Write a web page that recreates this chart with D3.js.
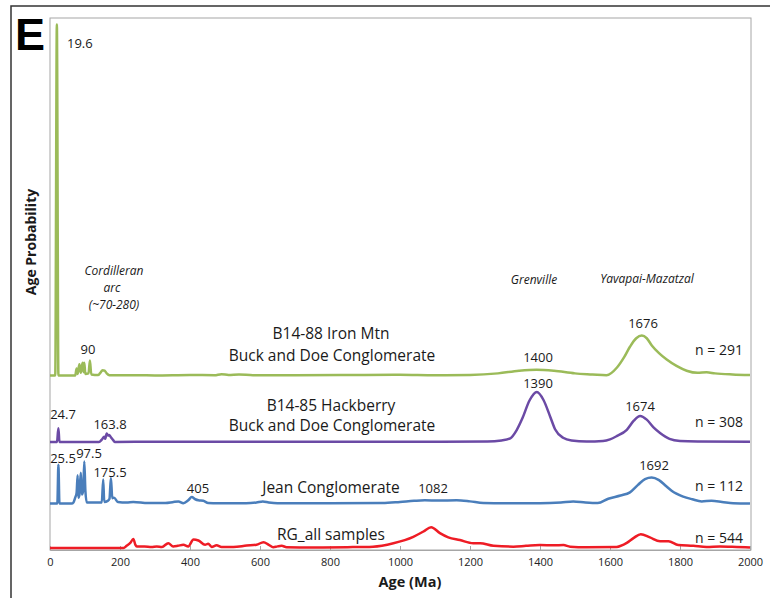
<!DOCTYPE html>
<html>
<head>
<meta charset="utf-8">
<script src="https://cdn.jsdelivr.net/npm/d3@7"></script>
<style>
  html, body { margin: 0; padding: 0; background: #fff; }
  svg { display: block; font-family: "Open Sans", sans-serif; }
</style>
</head>
<body>
<svg id="chart" width="770" height="598"></svg>
<script>
// Detrital zircon age probability curves, stacked by sample.
// Each series: [age (Ma), relative probability].
const ageTicks = [0, 200, 400, 600, 800, 1000, 1200, 1400, 1600, 1800, 2000];

const ironMtn = [
  [0,0],[15,0],[19.6,66.0],[24,0],[72,0],[76,1.3],[79,0.3],[84,2.1],[88,0.5],[93,2.4],[96,0.6],
  [98,2.4],[101,0.3],[110,0.4],[114,2.8],[118,0.2],[138,0.1],[145,0.6],[150,1.0],[156,0.9],
  [162,0.4],[170,0.05],[250,0.05],[300,0.0],[400,0.1],[470,0.05],[490,0.25],[510,0.1],[540,0.2],
  [580,0.05],[700,0.05],[900,0.1],[1000,0.15],[1100,0.05],[1200,0.1],[1280,0.4],[1340,0.9],
  [1390,1.1],[1440,0.9],[1500,0.4],[1550,0.2],[1590,0.05],[1620,1.5],[1640,3.4],[1657,5.4],
  [1675,7.0],[1691,7.5],[1705,7.0],[1720,5.6],[1740,4.2],[1762,3.0],[1790,1.8],[1819,0.9],
  [1850,0.5],[1876,0.6],[1900,0.4],[1950,0.2],[2000,0.1]
];

const hackberry = [
  [0,0],[20,0],[24,2.6],[27,0],[140,0],[148,0.45],[155,1.0],[158,0.6],[162,1.6],[166,1.2],
  [169,1.3],[174,0.9],[180,0.4],[186,0],[300,0.05],[600,0.05],[900,0.05],[1250,0.1],[1290,0.3],
  [1315,0.7],[1333,2.2],[1350,4.5],[1370,7.8],[1391,9.4],[1410,7.9],[1430,4.6],[1443,2.4],
  [1466,0.8],[1490,0.3],[1533,0.1],[1580,0.2],[1600,0.5],[1619,1.1],[1648,2.3],[1668,4.0],
  [1686,4.9],[1705,4.2],[1725,2.7],[1743,1.7],[1770,0.6],[1800,0.2],[1850,0.1],[2000,0.05]
];

const jean = [
  [0,0],[21,0],[24,7.3],[27,0],[62,0],[67,0.2],[72,1.1],[76,2.0],[79,5.3],[81,1.1],[84,1.6],
  [88,5.8],[91,1.7],[95,2.5],[98,7.9],[101,2.5],[105,0.2],[148,0.2],[152,4.5],[155,0.3],
  [165,0.5],[170,0.9],[174,4.8],[178,1.0],[183,1.1],[194,0.3],[219,0.2],[238,0.3],[280,0.1],
  [330,0.1],[350,0.25],[367,0.4],[381,0.05],[395,0.6],[405,1.2],[415,0.8],[424,0.6],[438,0.5],
  [452,0.1],[480,0.05],[560,0.05],[590,0.2],[608,0.4],[625,0.2],[650,0.05],[800,0.05],
  [950,0.1],[1000,0.3],[1040,0.5],[1071,0.6],[1110,0.55],[1162,0.6],[1200,0.4],[1238,0.1],
  [1300,0.05],[1400,0.05],[1460,0.2],[1495,0.4],[1530,0.2],[1565,0.1],[1595,0.9],[1630,1.5],
  [1657,2.1],[1680,3.5],[1700,4.6],[1719,4.9],[1740,4.4],[1760,3.3],[1776,2.4],[1809,1.3],
  [1835,0.8],[1862,0.4],[1890,0.5],[1920,0.3],[1952,0.05],[2000,0.0]
];

const rgAll = [
  [0,0],[210,0],[219,0.4],[230,1.0],[238,1.7],[244,0.6],[248,0.3],[270,0.3],[290,0.2],[305,0.3],
  [320,0.2],[338,0.9],[352,0.3],[365,0.4],[381,0.6],[395,0.3],[410,1.6],[424,1.4],[443,0.6],
  [452,0.8],[462,0.2],[476,0.5],[490,0.2],[524,0.2],[562,0.45],[590,0.6],[610,1.1],[625,0.6],
  [638,0.15],[650,0.3],[662,0.4],[676,0.15],[750,0.1],[850,0.15],[923,0.25],[981,0.9],
  [1038,2.1],[1067,3.1],[1089,3.9],[1114,2.8],[1138,2.0],[1171,1.5],[1209,0.9],[1229,0.9],
  [1267,0.4],[1324,0.25],[1360,0.4],[1400,0.55],[1440,0.5],[1467,0.55],[1486,0.25],[1533,0.15],
  [1619,0.2],[1648,0.95],[1668,1.9],[1688,2.6],[1714,2.0],[1743,1.25],[1767,1.25],[1795,0.55],
  [1838,0.4],[1876,0.2],[1914,0.3],[1962,0.2],[2000,0.1]
];

// vertical offset of each stacked curve, in probability units
const sampleNames = ["B14-88 Iron Mtn", "B14-85 Hackberry", "Jean Conglomerate", "RG_all samples"];
const sampleOffsets = [32.8, 20.3, 8.74, 0.38];
const sampleCounts = [291, 308, 112, 544];
const sampleColors = ["#9bbb59", "#6b4aa5", "#4a7ebb", "#ee1c25"];
const sampleSeries = [ironMtn, hackberry, jean, rgAll];

const svg = d3.select("#chart");

const x = d3.scaleLinear().domain([0, 2000]).range([50, 750]);
const y = d3.scaleLinear().domain([0, 100]).range([550, 18]);

// outer panel frame
svg.append("path")
  .attr("d", "M11,598 V6 H770")
  .attr("fill", "none").attr("stroke", "#333").attr("stroke-width", 1.5);

// plot area frame
svg.append("rect")
  .attr("x", x(0)).attr("y", y(100))
  .attr("width", x(2000) - x(0) + 1).attr("height", y(0) - y(100))
  .attr("fill", "none").attr("stroke", "#a6a6a6").attr("stroke-width", 1);

// x axis
const axis = svg.append("g")
  .attr("transform", `translate(0,${y(0)})`)
  .call(d3.axisBottom(x).tickValues(ageTicks).tickFormat(d3.format("d"))
    .tickSize(-4).tickPadding(8));
axis.select(".domain").attr("stroke", "#a6a6a6");
axis.selectAll(".tick line").attr("stroke", "#a6a6a6");
axis.selectAll(".tick text")
  .attr("fill", "#222").attr("font-size", 11)
  .attr("font-family", "'Open Sans', sans-serif");

// curves
sampleSeries.forEach((series, i) => {
  const off = sampleOffsets[i];
  const line = d3.line()
    .x(d => x(d[0]))
    .y(d => y(d[1] + off))
    .curve(d3.curveMonotoneX);
  svg.append("path")
    .datum(series)
    .attr("d", line)
    .attr("fill", "none")
    .attr("stroke", sampleColors[i])
    .attr("stroke-width", 2.5)
    .attr("stroke-linejoin", "round");
});

function label(txt, cx, cy, opts = {}) {
  return svg.append("text")
    .attr("x", cx).attr("y", cy)
    .attr("text-anchor", opts.anchor || "middle")
    .attr("dominant-baseline", "central")
    .attr("font-size", opts.size || 13)
    .attr("font-style", opts.italic ? "italic" : null)
    .attr("font-weight", opts.bold ? "bold" : null)
    .attr("fill", "#1a1a1a")
    .text(txt);
}

// peak age labels
label("19.6", 67, 43, { anchor: "start" });
label("90", 88, 349);
label("1400", 538, 357);
label("1676", 643, 323);
label("24.7", 63, 414);
label("163.8", 110, 424);
label("1390", 538, 383);
label("1674", 640, 406);
label("25.5", 63, 458);
label("97.5", 89, 453);
label("175.5", 110, 472);
label("405", 198, 488);
label("1082", 433, 488);
label("1692", 654, 465);

// sample names and counts
label(sampleNames[0], 331, 333, { size: 15.5 });
label("Buck and Doe Conglomerate", 332, 355, { size: 15.5 });
label(sampleNames[1], 331, 405, { size: 15.5 });
label("Buck and Doe Conglomerate", 332, 425, { size: 15.5 });
label(sampleNames[2], 331, 487, { size: 15.5 });
label(sampleNames[3], 331, 534, { size: 15.5 });
const countY = [349, 421, 485, 537];
sampleCounts.forEach((n, i) => label(`n = ${n}`, 719, countY[i], { size: 14 }));

// orogenic province annotations
label("Cordilleran", 114, 270, { size: 12, italic: true });
label("arc", 112, 287, { size: 12, italic: true });
label("(~70-280)", 114, 304, { size: 12, italic: true });
label("Grenville", 534, 279, { size: 12, italic: true });
label("Yavapai-Mazatzal", 647, 278, { size: 12, italic: true });

// axis titles
label("Age (Ma)", 410, 581, { size: 14.5, bold: true });
svg.append("text")
  .attr("transform", "translate(30,242) rotate(-90)")
  .attr("text-anchor", "middle")
  .attr("dominant-baseline", "central")
  .attr("font-size", 14).attr("font-weight", "bold")
  .attr("fill", "#1a1a1a")
  .text("Age Probability");

// panel letter
svg.append("text")
  .attr("x", 15).attr("y", 50)
  .attr("font-family", "'Liberation Sans', Arial, sans-serif")
  .attr("font-size", 45).attr("font-weight", "bold")
  .attr("fill", "#000")
  .text("E");
</script>
</body>
</html>
